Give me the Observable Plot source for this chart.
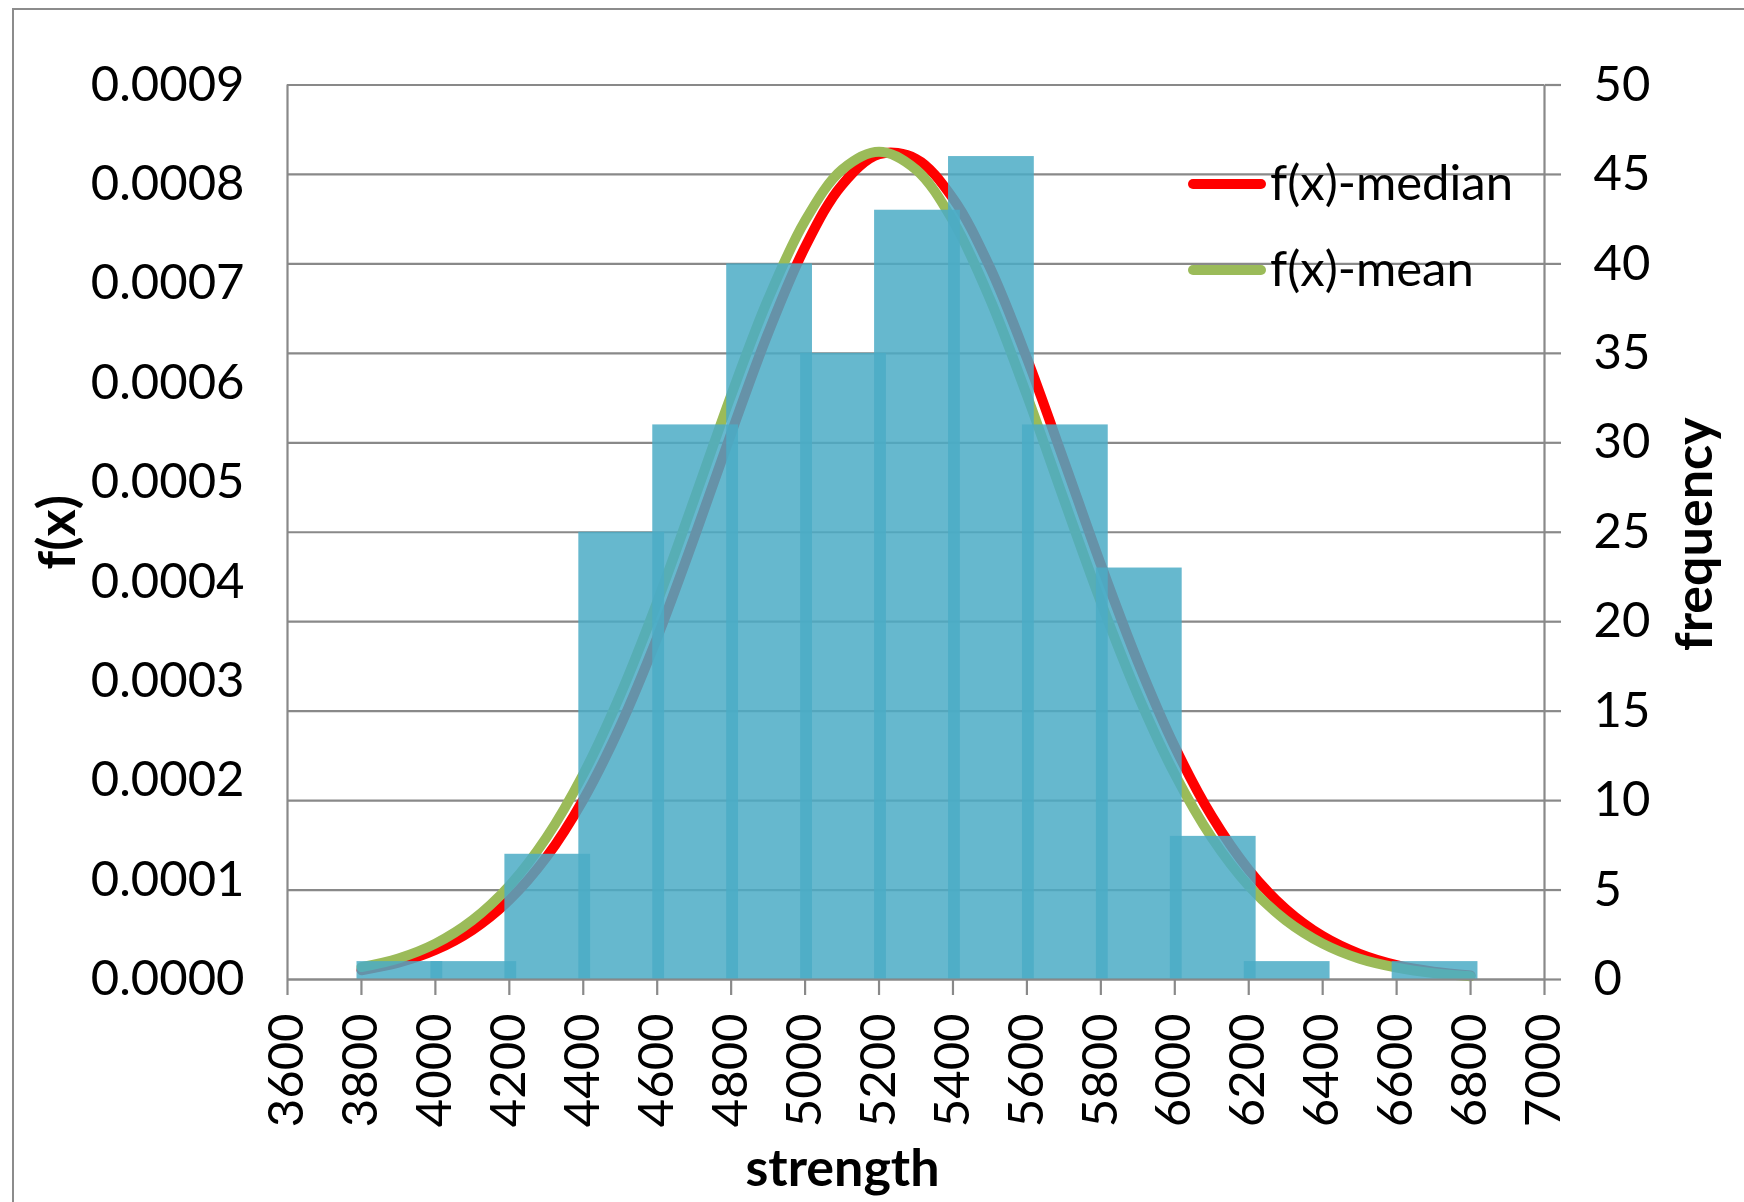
<!DOCTYPE html>
<html>
<head>
<meta charset="utf-8">
<script src="https://cdn.jsdelivr.net/npm/d3@7"></script>
<script src="https://cdn.jsdelivr.net/npm/@observablehq/plot@0.6"></script>
<style>
  html, body { margin: 0; padding: 0; background: #fff; }
  #wrap { position: relative; width: 1744px; height: 1202px; overflow: hidden; font-family: Lato, sans-serif; }
  #border { position: absolute; left: 12px; top: 8px; width: 1900px; height: 1400px; border: 2px solid #8c8c8c; box-sizing: border-box; }
  #chart { position: absolute; left: 0; top: 0; }
  .legline { position: absolute; height: 10px; border-radius: 5px; }
  .legtext { position: absolute; font-size: 49px; line-height: 1; color: #000; white-space: nowrap; }
</style>
</head>
<body>
<div id="wrap">
  <div id="border"></div>
  <div id="chart"></div>
  <div id="legend"></div>
</div>
<script>
// ---- data ----
const binStart  = [3800, 4000, 4200, 4400, 4600, 4800, 5000, 5200, 5400, 5600, 5800, 6000, 6200, 6400, 6600];
const frequency = [1, 1, 7, 25, 31, 40, 35, 43, 46, 31, 23, 8, 1, 0, 1];

const strengthGrid = [3800, 3900, 4000, 4100, 4200, 4300, 4400, 4500, 4600, 4700, 4800, 4900, 5000, 5100, 5200,
                      5300, 5400, 5500, 5600, 5700, 5800, 5900, 6000, 6100, 6200, 6300, 6400, 6500, 6600, 6700, 6800];
const fMedian = [0.0000093, 0.0000169, 0.0000297, 0.0000498, 0.0000800, 0.0001229, 0.0001809, 0.0002550, 0.0003440,
                 0.0004444, 0.0005494, 0.0006503, 0.0007370, 0.0007995, 0.0008304, 0.0008257, 0.0007860, 0.0007164,
                 0.0006250, 0.0005221, 0.0004175, 0.0003196, 0.0002342, 0.0001643, 0.0001104, 0.0000710, 0.0000437,
                 0.0000258, 0.0000145, 0.0000079, 0.0000041];
const fMean   = [0.0000125, 0.0000212, 0.0000361, 0.0000596, 0.0000942, 0.0001426, 0.0002065, 0.0002863, 0.0003799,
                 0.0004829, 0.0005877, 0.0006846, 0.0007634, 0.0008149, 0.0008329, 0.0008149, 0.0007634, 0.0006846,
                 0.0005877, 0.0004829, 0.0003799, 0.0002863, 0.0002065, 0.0001426, 0.0000942, 0.0000596, 0.0000361,
                 0.0000209, 0.0000120, 0.0000064, 0.0000033];

const seriesNames = ["f(x)-median", "f(x)-mean"];
const xTicks    = [3600, 3800, 4000, 4200, 4400, 4600, 4800, 5000, 5200, 5400, 5600, 5800, 6000, 6200, 6400, 6600, 6800, 7000];
const freqTicks = [0, 5, 10, 15, 20, 25, 30, 35, 40, 45, 50];
const fTicks    = [0, 0.0001, 0.0002, 0.0003, 0.0004, 0.0005, 0.0006, 0.0007, 0.0008, 0.0009];
const axisTitles = { left: "f(x)", right: "frequency", bottom: "strength" };

// ---- derived tables ----
const fMax = fTicks[fTicks.length - 1];
const freqMax = freqTicks[freqTicks.length - 1];
const toFreq = f => f * freqMax / fMax;

const bars = binStart.map((b, i) => ({ bin: b, freq: frequency[i] }));
const medianRows = strengthGrid.map((x, i) => ({ x, y: toFreq(fMedian[i]) }));
const meanRows   = strengthGrid.map((x, i) => ({ x, y: toFreq(fMean[i]) }));

const colors = { median: "#FF0000", mean: "#9BBB59", bar: "#4BACC6", grid: "#898989" };
const FS = 49;
const TFS = 52;

const chart = Plot.plot({
  width: 1744,
  height: 1202,
  marginLeft: 287,
  marginRight: 200,
  marginTop: 84.5,
  marginBottom: 223,
  style: { fontFamily: "Lato, sans-serif", fontSize: FS + "px", color: "#000", background: "transparent", overflow: "visible" },
  x: { domain: [xTicks[0], xTicks[xTicks.length - 1]] },
  y: { domain: [0, freqMax] },
  marks: [
    Plot.gridY(freqTicks, { stroke: colors.grid, strokeOpacity: 1, strokeWidth: 2.2 }),
    Plot.line(medianRows, { x: "x", y: "y", stroke: colors.median, strokeWidth: 10, curve: "catmull-rom", strokeLinecap: "round" }),
    Plot.line(meanRows, { x: "x", y: "y", stroke: colors.mean, strokeWidth: 10, curve: "catmull-rom", strokeLinecap: "round" }),
    Plot.rectY(bars, { x1: d => d.bin - 12, x2: d => d.bin + 220, y: "freq", fill: colors.bar, fillOpacity: 0.85 }),
    Plot.ruleX([xTicks[0], xTicks[xTicks.length - 1]], { stroke: colors.grid, strokeWidth: 2.2 }),
    Plot.ruleY([0], { stroke: colors.grid, strokeWidth: 2.2 }),
    Plot.axisX(xTicks, { anchor: "bottom", tickRotate: -90, tickSize: 16, tickPadding: 18, stroke: colors.grid, strokeWidth: 2.2, fill: "#000", fontSize: FS, label: null, tickFormat: d => String(d) }),
    Plot.axisY(fTicks.map(toFreq), { anchor: "left", tickSize: 0, tickPadding: 43, fill: "#000", fontSize: FS, label: null, tickFormat: d => (d * fMax / freqMax).toFixed(4) }),
    Plot.axisY(freqTicks, { anchor: "right", tickSize: 16, tickPadding: 33, stroke: colors.grid, strokeWidth: 2.2, fill: "#000", fontSize: FS, label: null, tickFormat: d => String(d) }),
    Plot.text([axisTitles.left], { text: d => d, frameAnchor: "left", textAnchor: "middle", dx: -229, dy: 0, rotate: -90, fontWeight: "bold", fontSize: TFS, fill: "#000" }),
    Plot.text([axisTitles.right], { text: d => d, frameAnchor: "right", textAnchor: "middle", dx: 151, dy: 2, rotate: -90, fontWeight: "bold", fontSize: TFS, fill: "#000" }),
    Plot.text([axisTitles.bottom], { text: d => d, frameAnchor: "bottom", textAnchor: "middle", dx: -73.5, dy: 190, lineAnchor: "middle", fontWeight: "bold", fontSize: TFS, fill: "#000" })
  ]
});
document.getElementById("chart").appendChild(chart);

// ---- legend (HTML overlay inside plot area) ----
const legend = document.getElementById("legend");
const legendColors = [colors.median, colors.mean];
const legendTop = [183.5, 270];
seriesNames.forEach((name, i) => {
  const line = document.createElement("div");
  line.className = "legline";
  line.style.left = "1188px";
  line.style.width = "78px";
  line.style.top = (legendTop[i] - 5) + "px";
  line.style.background = legendColors[i];
  legend.appendChild(line);
  const t = document.createElement("div");
  t.className = "legtext";
  t.textContent = name;
  t.style.left = "1270px";
  t.style.top = (legendTop[i] - 27) + "px";
  legend.appendChild(t);
});
</script>
</body>
</html>
